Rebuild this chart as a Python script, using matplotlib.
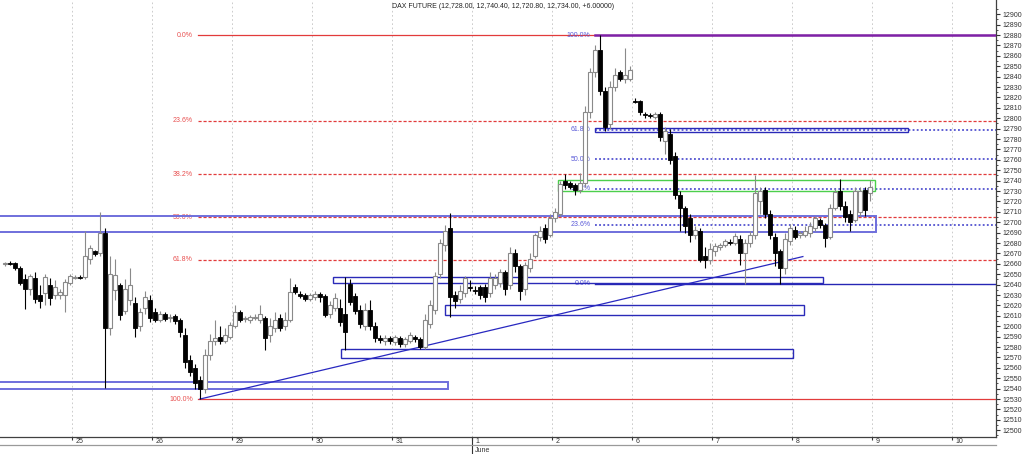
import matplotlib
matplotlib.use("Agg")
import matplotlib.pyplot as plt
from matplotlib.patches import Rectangle
from matplotlib.lines import Line2D
from matplotlib import transforms
import numpy as np

plt.rcParams['font.family'] = ['Liberation Sans', 'DejaVu Sans']

# x axis: one unit per trading session, session 0 = 24 May (only its end is visible)
day_ticks = list(range(1, 13))
day_labels = ['25', '26', '29', '30', '31', '1', '2', '6', '7', '8', '9', '10']
bars_per_day = 16

# OHLC bars per session (open, high, low, close)
s0524 = [(12660, 12662, 12658, 12661), (12661, 12663, 12659, 12660), (12661, 12662, 12654, 12656),
         (12656, 12658, 12640, 12642), (12645, 12650, 12617, 12636), (12636, 12650, 12630, 12648),
         (12646, 12652, 12622, 12626), (12630, 12640, 12618, 12624), (12632, 12650, 12620, 12647),
         (12640, 12646, 12620, 12627), (12630, 12644, 12626, 12638), (12630, 12636, 12626, 12633),
         (12630, 12645, 12614, 12643), (12642, 12650, 12640, 12648)]
s0525 = [(12646, 12649, 12645, 12647), (12647, 12649, 12645, 12646), (12647, 12692, 12645, 12668),
         (12665, 12678, 12660, 12675), (12672, 12673, 12668, 12669), (12670, 12710, 12668, 12690),
         (12690, 12694, 12541, 12598), (12598, 12668, 12592, 12650), (12635, 12665, 12625, 12649),
         (12640, 12642, 12606, 12611), (12615, 12645, 12612, 12636), (12625, 12656, 12620, 12640),
         (12622, 12628, 12590, 12598), (12600, 12618, 12595, 12614), (12618, 12634, 12612, 12628),
         (12625, 12630, 12604, 12608)]
s0526 = [(12614, 12618, 12604, 12606), (12606, 12615, 12604, 12612), (12612, 12614, 12605, 12607),
         (12608, 12612, 12604, 12609), (12610, 12612, 12602, 12605), (12606, 12608, 12590, 12594),
         (12592, 12598, 12560, 12566), (12568, 12572, 12552, 12556), (12560, 12564, 12540, 12545),
         (12548, 12552, 12530, 12540), (12540, 12578, 12536, 12572), (12572, 12593, 12568, 12586),
         (12586, 12606, 12582, 12589), (12590, 12600, 12583, 12586), (12586, 12598, 12584, 12592),
         (12590, 12604, 12588, 12601)]
s0529 = [(12600, 12620, 12598, 12614), (12614, 12616, 12604, 12606), (12607, 12610, 12604, 12608),
         (12606, 12611, 12603, 12609), (12608, 12612, 12606, 12609), (12606, 12620, 12603, 12612),
         (12608, 12610, 12577, 12589), (12592, 12608, 12585, 12600), (12598, 12614, 12594, 12606),
         (12608, 12612, 12595, 12598), (12600, 12614, 12596, 12606), (12606, 12646, 12604, 12633),
         (12638, 12641, 12631, 12633), (12631, 12634, 12627, 12629), (12630, 12632, 12624, 12626),
         (12626, 12632, 12624, 12630)]
s0530 = [(12628, 12634, 12625, 12631), (12631, 12633, 12623, 12628), (12629, 12631, 12609, 12611),
         (12612, 12624, 12608, 12620), (12618, 12632, 12615, 12627), (12618, 12626, 12600, 12604),
         (12612, 12647, 12577, 12594), (12641, 12645, 12620, 12623), (12629, 12632, 12612, 12615),
         (12616, 12620, 12598, 12602), (12600, 12622, 12596, 12616), (12616, 12625, 12596, 12600),
         (12600, 12604, 12585, 12589), (12589, 12592, 12584, 12587), (12586, 12592, 12582, 12589),
         (12589, 12591, 12583, 12586)]
s0531 = [(12585, 12592, 12582, 12590), (12589, 12591, 12580, 12583), (12583, 12590, 12580, 12588),
         (12586, 12594, 12584, 12592), (12590, 12592, 12585, 12588), (12588, 12590, 12578, 12580),
         (12580, 12612, 12578, 12606), (12602, 12625, 12598, 12620), (12616, 12652, 12612, 12648),
         (12650, 12684, 12646, 12680), (12678, 12697, 12672, 12692), (12694, 12709, 12609, 12628),
         (12630, 12634, 12618, 12624), (12626, 12640, 12622, 12634), (12632, 12648, 12628, 12646),
         (12638, 12644, 12634, 12637)]
s0601 = [(12635, 12639, 12631, 12634), (12638, 12640, 12626, 12630), (12638, 12641, 12623, 12628),
         (12632, 12652, 12628, 12646), (12640, 12650, 12636, 12646), (12642, 12655, 12638, 12652),
         (12652, 12654, 12630, 12636), (12640, 12676, 12636, 12670), (12670, 12674, 12652, 12658),
         (12658, 12660, 12625, 12634), (12636, 12662, 12630, 12659), (12656, 12670, 12652, 12665),
         (12668, 12690, 12666, 12688), (12686, 12696, 12682, 12692), (12694, 12698, 12680, 12684),
         (12688, 12708, 12686, 12704)]
s0602 = [(12704, 12714, 12700, 12710), (12708, 12740, 12706, 12737), (12740, 12746, 12732, 12736),
         (12738, 12740, 12732, 12734), (12736, 12738, 12726, 12731), (12731, 12747, 12728, 12738),
         (12738, 12812, 12734, 12806), (12806, 12848, 12800, 12844), (12844, 12870, 12840, 12866),
         (12866, 12880, 12822, 12826), (12826, 12830, 12788, 12792), (12794, 12836, 12790, 12830),
         (12830, 12848, 12826, 12842), (12844, 12846, 12836, 12838), (12838, 12868, 12834, 12842),
         (12838, 12850, 12836, 12846)]
s0606 = [(12817, 12819, 12815, 12816), (12817, 12818, 12803, 12806), (12804, 12806, 12800, 12803),
         (12803, 12805, 12800, 12802), (12801, 12806, 12799, 12804), (12804, 12806, 12778, 12782),
         (12778, 12792, 12766, 12788), (12785, 12790, 12756, 12760), (12764, 12768, 12722, 12726),
         (12726, 12730, 12692, 12714), (12714, 12716, 12690, 12696), (12704, 12708, 12681, 12688),
         (12688, 12696, 12684, 12693), (12692, 12694, 12662, 12664), (12668, 12676, 12656, 12664),
         (12664, 12680, 12660, 12674)]
s0607 = [(12672, 12680, 12668, 12677), (12676, 12680, 12673, 12678), (12678, 12684, 12676, 12682),
         (12681, 12684, 12678, 12680), (12680, 12690, 12678, 12687), (12684, 12688, 12659, 12670),
         (12670, 12684, 12641, 12680), (12680, 12692, 12676, 12688), (12688, 12745, 12684, 12728),
         (12720, 12734, 12708, 12730), (12731, 12734, 12704, 12708), (12708, 12712, 12684, 12688),
         (12686, 12690, 12658, 12670), (12672, 12674, 12641, 12656), (12656, 12690, 12650, 12684),
         (12682, 12698, 12678, 12694)]
s0608 = [(12693, 12696, 12684, 12686), (12688, 12692, 12685, 12690), (12688, 12696, 12686, 12692),
         (12690, 12700, 12686, 12696), (12694, 12706, 12692, 12704), (12702, 12704, 12694, 12697),
         (12697, 12699, 12676, 12685), (12686, 12718, 12684, 12714), (12714, 12732, 12712, 12729),
         (12730, 12742, 12712, 12716), (12716, 12720, 12700, 12705), (12708, 12712, 12692, 12700),
         (12702, 12734, 12700, 12730), (12710, 12734, 12706, 12730), (12731, 12734, 12706, 12712),
         (12728, 12740.4, 12720.8, 12734)]
sessions = [s0524, s0525, s0526, s0529, s0530, s0531, s0601, s0602, s0606, s0607, s0608]

fib_ratios = [0.0, 0.236, 0.382, 0.5, 0.618, 1.0]

# drawn zones: (start session time, end session time, low, high)
blue_zones = [(4.356, 10.006, 12569.5, 12578), (5.656, 10.144, 12611, 12620),
              (4.256, 10.38, 12641.5, 12647.5), (7.53, 11.44, 12787, 12791)]
light_zones = [(-0.1, 5.69, 12540, 12546), (-0.1, 11.04, 12690.5, 12706)]
green_zone = (7.07, 11.03, 12730, 12741)
trend_end = (10.13, 12667)

title = 'DAX FUTURE (12,728.00, 12,740.40, 12,720.80, 12,734.00, +6.00000)'

# ---- flatten bars
xs, o_, h_, l_, c_ = [], [], [], [], []
for day, bars in enumerate(sessions):
    first = bars_per_day - len(bars)
    for i, (o, h, l, c) in enumerate(bars):
        xs.append(day + (first + i + 0.5) / bars_per_day)
        o_.append(o); h_.append(h); l_.append(l); c_.append(c)
xs, o_, h_, l_, c_ = map(np.array, (xs, o_, h_, l_, c_))

fig = plt.figure(figsize=(10.24, 4.54), dpi=100)
ax = fig.add_axes([0, 17 / 454, 996 / 1024, 437 / 454])
ax.set_xlim(0.094, 12.544)
ax.set_ylim(12493.5, 12913.7)

# vertical session grid
for d in day_ticks:
    ax.axvline(d, color='#c4c4c4', lw=0.6, ls=(0, (2, 3)), zorder=0)

red = '#e23b3b'
blue = '#3434c8'
lab_red = '#e85050'
lab_blue = '#5a5ad8'
bw = 1 / bars_per_day

# red fibonacci: swing low -> swing high
i_lo = int(np.argmin(l_))
i_hi = int(np.argmax(h_))
r_lo, r_hi = l_[i_lo], h_[i_hi]
r_x0 = xs[i_lo] - bw * 0.4
lab_tr = transforms.offset_copy(ax.transData, fig=fig, x=-5, y=0, units='dots')
for r in fib_ratios:
    lvl = r_hi - r * (r_hi - r_lo)
    ls = '-' if r in (0.0, 1.0) else (0, (2.5, 1.5))
    ax.plot([r_x0, 13], [lvl, lvl], color=red, lw=0.9, ls=ls, zorder=2)
    ax.text(r_x0, lvl, f'{r * 100:.1f}%', transform=lab_tr, ha='right', va='center',
            fontsize=5, color=lab_red, zorder=2)

# blue fibonacci: swing high -> later low
b_hi = h_[i_hi]
b_lo = l_[i_hi:].min()
b_x0 = xs[i_hi] - bw * 0.9
for r in fib_ratios:
    lvl = b_lo + r * (b_hi - b_lo)
    if r == 1.0:
        ax.plot([b_x0, 13], [lvl, lvl], color='#7d22a8', lw=1.8, zorder=3)
    elif r == 0.0:
        ax.plot([b_x0, 13], [lvl, lvl], color='#2626b4', lw=1.0, zorder=2)
    else:
        ax.plot([b_x0, 13], [lvl, lvl], color=blue, lw=1.1, ls=(0, (1.2, 1.5)), zorder=2)
    ax.text(b_x0, lvl, f'{r * 100:.1f}%', transform=lab_tr, ha='right', va='center',
            fontsize=5, color=lab_blue, zorder=2)

# zones
for x0, x1, lo, hi in blue_zones:
    ax.add_patch(Rectangle((x0, lo), x1 - x0, hi - lo, fill=False, ec='#2a2ab8', lw=1.0, zorder=3))
for x0, x1, lo, hi in light_zones:
    ax.add_patch(Rectangle((x0, lo), x1 - x0, hi - lo, fill=False, ec='#6f6fdc', lw=1.4, zorder=3))
gx0, gx1, glo, ghi = green_zone
ax.add_patch(Rectangle((gx0, glo), gx1 - gx0, ghi - glo, fill=False, ec='#4ccf4c', lw=1.0, zorder=3))

# trend line from the swing low
ax.plot([xs[i_lo], trend_end[0]], [l_[i_lo], trend_end[1]], color='#2828c0', lw=0.9, zorder=3)

# candles
w = 0.62 * bw
up = c_ >= o_
dn = ~up
ax.vlines(xs[up], l_[up], h_[up], color='#8a8a8a', lw=0.8, zorder=4)
ax.bar(xs[up], c_[up] - o_[up], w, bottom=o_[up], facecolor='white', edgecolor='#8a8a8a',
       lw=0.8, zorder=5)
ax.vlines(xs[dn], l_[dn], h_[dn], color='black', lw=0.8, zorder=4)
ax.bar(xs[dn], c_[dn] - o_[dn], w, bottom=o_[dn], facecolor='black', edgecolor='black',
       lw=0.6, zorder=5)

# axes styling
for s in ('top', 'left'):
    ax.spines[s].set_visible(False)
for s in ('right', 'bottom'):
    ax.spines[s].set_color('#404040')
    ax.spines[s].set_linewidth(0.9)

ax.yaxis.tick_right()
ax.set_yticks(np.arange(12500, 12901, 10))
ax.set_yticks(np.arange(12495, 12911, 10), minor=True)
ax.tick_params(axis='y', which='major', labelsize=5, length=3, pad=1.5, colors='#333333')
ax.tick_params(axis='y', which='minor', length=1.5, colors='#333333')

ax.set_xticks(day_ticks)
ax.set_xticks([3, 8], minor=True)
ax.tick_params(axis='x', which='major', length=2.5, labelbottom=False, colors='#333333')
ax.tick_params(axis='x', which='minor', length=8, colors='#333333')
xlab_tr = transforms.offset_copy(ax.get_xaxis_transform(), fig=fig, x=3, y=-4.5, units='dots')
for d, lab in zip(day_ticks, day_labels):
    ax.text(d, 0, lab, transform=xlab_tr, ha='left', va='center', fontsize=5, color='#333333')
ax.add_line(Line2D([6, 6], [0, -17 / 437], transform=ax.get_xaxis_transform(),
                   color='#333333', lw=0.8, clip_on=False))
june_tr = transforms.offset_copy(ax.get_xaxis_transform(), fig=fig, x=2, y=-14, units='dots')
ax.text(6, 0, 'June', transform=june_tr, ha='left', va='center', fontsize=5, color='#333333')
ax.add_line(Line2D([0, 1], [-8 / 437, -8 / 437], transform=ax.transAxes,
                   color='#9a9a9a', lw=0.9, clip_on=False))

fig.text(392 / 1024, 1 - 6 / 454, title, ha='left', va='center', fontsize=5, color='#222222')

fig.savefig('out.png', dpi=100, facecolor='white')
